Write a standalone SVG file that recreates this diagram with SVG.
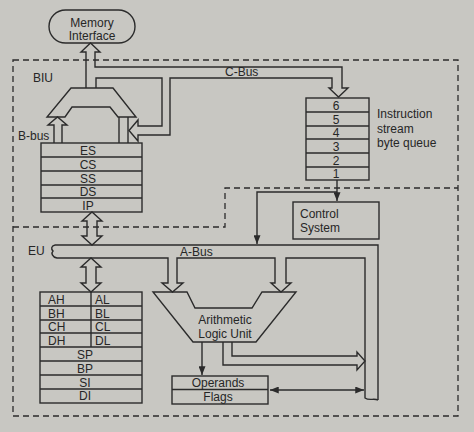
<svg xmlns="http://www.w3.org/2000/svg" width="474" height="432" viewBox="0 0 474 432">
<defs>
<style>
.ln{fill:none;stroke:#2b2b2b;stroke-width:1.4;stroke-linejoin:miter}
.bx{fill:none;stroke:#2b2b2b;stroke-width:1.4}
.ds{fill:none;stroke:#2b2b2b;stroke-width:1.3;stroke-dasharray:6 4}
text{font-family:"Liberation Sans",Arial,sans-serif;font-size:12px;fill:#262626}
.c{text-anchor:middle}
</style>
<marker id="ah" viewBox="0 0 10 8" markerUnits="userSpaceOnUse" markerWidth="9" markerHeight="7" refX="10" refY="4" orient="auto-start-reverse">
<path d="M0,0 L10,4 L0,8 z" fill="#2b2b2b"/>
</marker>
</defs>
<rect width="474" height="432" fill="#c8c7c2"/>

<g id="boundaries">
<path class="ds" d="M13,60 H458 V416 H13 Z"/>
<path class="ds" d="M13,227 H225 V188 H458"/>
<text x="33" y="82">BIU</text>
<text x="28" y="255">EU</text>
</g>

<g id="memory-interface">
<rect class="bx" x="49" y="10" width="86" height="33" rx="16.5"/>
<text class="c" x="92" y="27">Memory</text>
<text class="c" x="92" y="40">Interface</text>
</g>

<g id="biu-adder">
<path class="bx" d="M71,88 L113,88 L136,117 L118,117 L110,107 L72,107 L65,117 L47,117 Z"/>
</g>

<g id="segment-registers">
<rect class="bx" x="41" y="143" width="101" height="69"/>
<path class="ln" d="M41,157 H142 M41,171 H142 M41,185 H142 M41,198 H142"/>
<text class="c" x="88" y="154.5">ES</text>
<text class="c" x="88" y="168.5">CS</text>
<text class="c" x="88" y="182.5">SS</text>
<text class="c" x="88" y="196">DS</text>
<text class="c" x="88" y="209.5">IP</text>
</g>

<g id="queue">
<rect class="bx" x="306" y="98" width="63" height="82"/>
<path class="ln" d="M306,112 H369 M306,126 H369 M306,139 H369 M306,153 H369 M306,167 H369"/>
<text class="c" x="336" y="109.5">6</text>
<text class="c" x="336" y="123.5">5</text>
<text class="c" x="336" y="137">4</text>
<text class="c" x="336" y="150.5">3</text>
<text class="c" x="336" y="164.5">2</text>
<text class="c" x="336" y="178">1</text>
<text x="377" y="118">Instruction</text>
<text x="377" y="133">stream</text>
<text x="377" y="147">byte queue</text>
</g>

<g id="control-system">
<rect class="bx" x="293" y="202" width="86" height="37"/>
<text x="300" y="218">Control</text>
<text x="300" y="232">System</text>
</g>

<g id="general-registers">
<rect class="bx" x="40" y="292" width="102" height="111"/>
<path class="ln" d="M40,306 H142 M40,320 H142 M40,333 H142 M40,347 H142 M40,361 H142 M40,375 H142 M40,389 H142 M91,292 V347"/>
<text x="48" y="303.5">AH</text><text x="95" y="303.5">AL</text>
<text x="48" y="317.5">BH</text><text x="95" y="317.5">BL</text>
<text x="48" y="331">CH</text><text x="95" y="331">CL</text>
<text x="48" y="344.5">DH</text><text x="95" y="344.5">DL</text>
<text class="c" x="85" y="358.5">SP</text>
<text class="c" x="85" y="372.5">BP</text>
<text class="c" x="85" y="386.5">SI</text>
<text class="c" x="85" y="400">DI</text>
</g>

<g id="alu">
<path class="bx" d="M153,292 L187,292 L195,308 L252,308 L262,292 L296,292 L256,342 L193,342 Z"/>
<text class="c" x="225" y="324">Arithmetic</text>
<text class="c" x="225" y="338">Logic Unit</text>
</g>

<g id="operands-flags">
<rect class="bx" x="172" y="376" width="96" height="28"/>
<path class="ln" d="M172,389.5 H268"/>
<text class="c" x="218" y="387">Operands</text>
<text class="c" x="218" y="401">Flags</text>
</g>

<g id="connectors">
<path class="ln" d="M86,88 V52 H81 L90.5,43 L100,52 H95 V67 H342 V88 H348 L338.5,97 L329,88 H332 V78 H170 V135 H138 V141 L129,130.5 L138,120 V126 H162 V78 H96 V88"/>
<text x="225" y="76">C-Bus</text>
<path class="ln" d="M54,143 V125 H48 L57.5,117 L67,125 H62 V143"/>
<text x="18" y="140">B-bus</text>
<path class="ln" d="M119,117 V143 M128,117 V143"/>
<path class="ln" d="M87,221 H82 L92,212 L102,221 H97 V236 H102 L92,245 L82,236 H87 Z"/>
<path class="ln" d="M86,267 H81 L91,258 L101,267 H96 V283 H101 L91,292 L81,283 H86 Z"/>
<path class="ln" d="M55,245 H378 V400"/>
<path class="ln" d="M55,245 C51,246 51,249 53,251 C51,253 52,257 57,258 H168 V283 H162 L172.5,292 L183,283 H177 V258 H275 V283 H271 L281,292 L291,283 H286 V258 H365 V398 C369,401 374,398 378,400"/>
<text x="180" y="256">A-Bus</text>
<path class="ln" d="M337,180 V201" marker-end="url(#ah)"/>
<path class="ln" d="M337,192 H257 V244" marker-end="url(#ah)"/>
<path class="ln" d="M202,342 V375" marker-end="url(#ah)"/>
<path class="ln" d="M223,342 V365 H357 V370 L365,361 L357,352 V356 H232 V342"/>
<path class="ln" d="M270,390 H364" marker-start="url(#ah)" marker-end="url(#ah)"/>
</g>
</svg>
